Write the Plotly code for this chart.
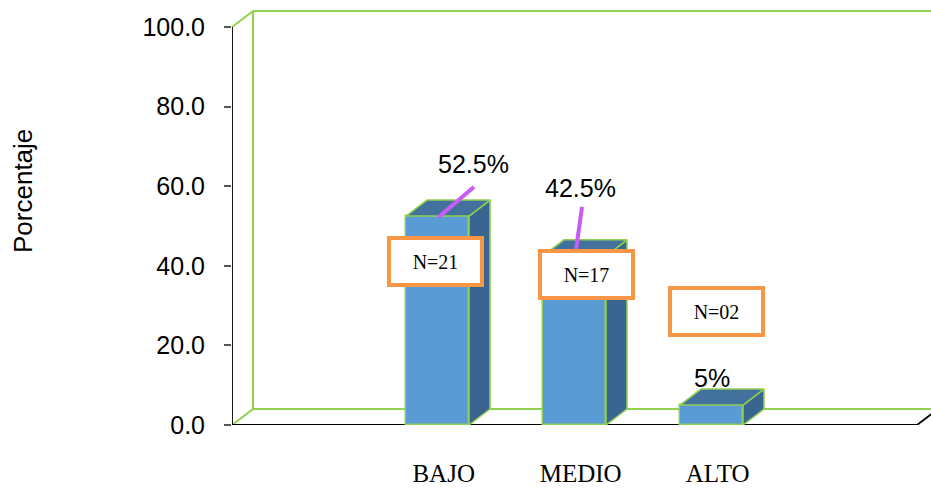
import plotly.graph_objects as go

# Nivel de conocimiento: porcentaje y número de casos por categoría
categorias = ["BAJO", "MEDIO", "ALTO"]
porcentajes = [52.5, 42.5, 5]
casos = [21, 17, 2]
ticks_y = [0, 20, 40, 60, 80, 100]

# Geometry of the pseudo-3D frame (in axis units)
PX_X = 137.0            # pixels per category slot
PX_Y = 3.98             # pixels per percentage unit
DX = 21 / PX_X          # depth offset along x
DY = 16 / PX_Y          # depth offset along y
BAR_W = 0.46
X_MAX = 699 / PX_X
Y_MAX = 415 / PX_Y

FRONT = "#5B9BD5"
TOP = "#41719C"
SIDE = "#3A6590"
EDGE = "#92D050"
ORANGE = "#F79646"
VIOLET = "#C95CF5"

pos = [i + 1.5 for i in range(len(categorias))]

fig = go.Figure()

# Front faces
fig.add_trace(go.Bar(
    x=pos, y=porcentajes, width=BAR_W,
    marker=dict(color=FRONT, line=dict(color=EDGE, width=1.5)),
    hoverinfo="skip", showlegend=False,
))

# Top and side faces derived from each value
for x, v in zip(pos, porcentajes):
    x0, x1 = x - BAR_W / 2, x + BAR_W / 2
    fig.add_trace(go.Scatter(
        x=[x1, x1 + DX, x1 + DX, x1, x1], y=[0, DY, v + DY, v, 0],
        fill="toself", fillcolor=SIDE, mode="lines",
        line=dict(color=EDGE, width=1.5), hoverinfo="skip", showlegend=False,
    ))
    fig.add_trace(go.Scatter(
        x=[x0, x1, x1 + DX, x0 + DX, x0], y=[v, v, v + DY, v + DY, v],
        fill="toself", fillcolor=TOP, mode="lines",
        line=dict(color=EDGE, width=1.5), hoverinfo="skip", showlegend=False,
    ))

shapes = []
# Back wall and floor edges
green = dict(color=EDGE, width=2)
for (xa, ya, xb, yb) in [
    (DX, DY, DX, 100 + DY),
    (DX, 100 + DY, X_MAX + 1, 100 + DY),
    (DX, DY, X_MAX + 1, DY),
    (0, 100, DX, 100 + DY),
    (0, 0, DX, DY),
]:
    shapes.append(dict(type="line", xref="x", yref="y", x0=xa, y0=ya, x1=xb, y1=yb,
                       line=green, layer="below"))
black = dict(color="#000000", width=1.8)
shapes.append(dict(type="line", xref="x", yref="y", x0=0, y0=0, x1=0, y1=100,
                   line=black, layer="below"))
shapes.append(dict(type="line", xref="x", yref="y", x0=0, y0=0, x1=5, y1=0,
                   line=black, layer="below"))
shapes.append(dict(type="line", xref="x", yref="y", x0=5, y0=0, x1=5 + DX, y1=DY,
                   line=black, layer="below"))

# Leader lines from the bar tops to their labels
leaders = [((0.007, -0.3), (0.266, 7.3)), ((0.011, 1.5), (0.055, 12.3))]
for (x, v), ((ax, ay), (bx, by)) in zip(zip(pos, porcentajes), leaders):
    shapes.append(dict(type="line", xref="x", yref="y",
                       x0=x + ax, y0=v + ay, x1=x + bx, y1=v + by,
                       line=dict(color=VIOLET, width=4)))

annotations = []
# Percentage labels
label_off = [(0.266, 13.1), (0.047, 17.0), (0.0, 6.8)]
for x, v, (ox, oy) in zip(pos, porcentajes, label_off):
    annotations.append(dict(
        x=x + ox, y=v + oy, xref="x", yref="y", text=f"{v:g}%", showarrow=False,
        font=dict(family="Liberation Sans", size=25, color="#000000"),
    ))

# Sample size boxes
box_at = [(1.482, 41.2), (2.584, 37.8), (3.536, 28.6)]
for n, (bx, by) in zip(casos, box_at):
    annotations.append(dict(
        x=bx, y=by, xref="x", yref="y", text=f"N={n:02d}", showarrow=False,
        font=dict(family="Liberation Serif", size=20, color="#000000"),
        bgcolor="#FFFFFF", bordercolor=ORANGE, borderwidth=4, borderpad=2,
        width=85, height=39,
    ))

# Axis title
annotations.append(dict(
    x=-209 / 699, y=58.8, xref="paper", yref="y", text="Porcentaje",
    xanchor="center", yanchor="middle",
    textangle=-90, showarrow=False,
    font=dict(family="Liberation Sans", size=26, color="#000000"),
))

fig.update_layout(
    width=931, height=488,
    margin=dict(l=232, r=0, t=10, b=63),
    paper_bgcolor="#FFFFFF", plot_bgcolor="#FFFFFF",
    showlegend=False, bargap=0,
    shapes=shapes, annotations=annotations,
    xaxis=dict(
        range=[0, X_MAX], showgrid=False, zeroline=False, showline=False,
        tickvals=[p + 0.045 for p in pos], ticktext=categorias,
        ticks="", ticklabelstandoff=31,
        tickfont=dict(family="Liberation Serif", size=25, color="#000000"),
        fixedrange=True,
    ),
    yaxis=dict(
        range=[0, Y_MAX], showgrid=False, zeroline=False, showline=False,
        tickvals=ticks_y, ticktext=[f"{t:.1f}" for t in ticks_y],
        ticks="outside", ticklen=7, tickwidth=1.5, tickcolor="#555555",
        ticklabelstandoff=14,
        tickfont=dict(family="Liberation Sans", size=25, color="#000000"),
        fixedrange=True,
    ),
)

fig.write_html("out.html")
